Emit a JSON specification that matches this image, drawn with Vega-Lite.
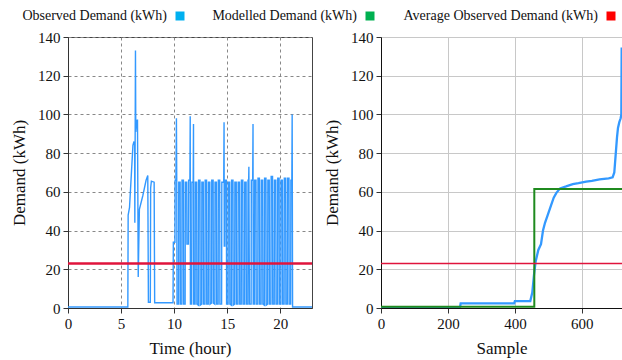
{
  "$schema": "https://vega.github.io/schema/vega-lite/v6.json",
  "background": "white",
  "padding": {"left": 10, "top": 9, "right": 0, "bottom": 2},
  "spacing": 9,
  "config": {
    "font": "Liberation Serif",
    "view": {"stroke": null},
    "axis": {
      "labelFont": "Liberation Serif", "titleFont": "Liberation Serif",
      "labelFontSize": 15, "titleFontSize": 17, "titleFontWeight": "normal",
      "labelColor": "#111", "titleColor": "#111",
      "domainColor": "#333", "tickColor": "#333", "tickSize": 5, "labelPadding": 3,
      "labelOverlap": false, "labelFlush": false, "titlePadding": 9
    },
    "legend": {
      "orient": "none", "legendY": -28, "direction": "horizontal", "title": null,
      "symbolType": "square", "symbolSize": 81, "symbolStrokeWidth": 0,
      "labelFont": "Liberation Serif", "labelFontSize": 14, "labelColor": "#111", "labelLimit": 0,
      "labelAlign": "right", "labelOffset": -20
    }
  },
  "datasets": {
    "left": [
      {"t": 0, "v": 0.5}, {"t": 5.64, "v": 0.5}, {"t": 5.67, "v": 48}, {"t": 5.8, "v": 52}, {"t": 6.12, "v": 84},
      {"t": 6.22, "v": 86}, {"t": 6.28, "v": 84}, {"t": 6.3, "v": 44}, {"t": 6.36, "v": 133}, {"t": 6.39, "v": 91},
      {"t": 6.45, "v": 95}, {"t": 6.52, "v": 97}, {"t": 6.55, "v": 97}, {"t": 6.62, "v": 16}, {"t": 6.73, "v": 51},
      {"t": 7.05, "v": 58}, {"t": 7.36, "v": 66}, {"t": 7.52, "v": 68.5}, {"t": 7.58, "v": 3}, {"t": 7.76, "v": 3},
      {"t": 7.79, "v": 62}, {"t": 7.86, "v": 65.5}, {"t": 8.12, "v": 65}, {"t": 8.17, "v": 2.7}, {"t": 9.9, "v": 2.7},
      {"t": 9.93, "v": 34}, {"t": 10.08, "v": 34}, {"t": 10.1, "v": 66}, {"t": 10.17, "v": 66}, {"t": 10.22, "v": 98},
      {"t": 10.25, "v": 66}, {"t": 10.28, "v": 2},
      {"t": 10.42, "v": 2}, {"t": 10.44, "v": 65}, {"t": 10.57, "v": 65}, {"t": 10.59, "v": 2},
      {"t": 10.73, "v": 2}, {"t": 10.75, "v": 66}, {"t": 10.88, "v": 66}, {"t": 10.9, "v": 2},
      {"t": 11.04, "v": 2}, {"t": 11.06, "v": 65}, {"t": 11.19, "v": 65}, {"t": 11.21, "v": 33},
      {"t": 11.35, "v": 33}, {"t": 11.37, "v": 66}, {"t": 11.49, "v": 66}, {"t": 11.52, "v": 99}, {"t": 11.54, "v": 2},
      {"t": 11.66, "v": 2}, {"t": 11.68, "v": 65}, {"t": 11.8, "v": 65}, {"t": 11.83, "v": 95}, {"t": 11.85, "v": 2},
      {"t": 11.98, "v": 2}, {"t": 12.0, "v": 65}, {"t": 12.13, "v": 65}, {"t": 12.15, "v": 2},
      {"t": 12.29, "v": 1.5}, {"t": 12.31, "v": 66}, {"t": 12.44, "v": 66}, {"t": 12.46, "v": 1.5},
      {"t": 12.6, "v": 2}, {"t": 12.62, "v": 65}, {"t": 12.75, "v": 65}, {"t": 12.77, "v": 2},
      {"t": 12.91, "v": 2}, {"t": 12.93, "v": 66}, {"t": 13.06, "v": 66}, {"t": 13.08, "v": 2},
      {"t": 13.22, "v": 2}, {"t": 13.24, "v": 65}, {"t": 13.37, "v": 65}, {"t": 13.39, "v": 2},
      {"t": 13.53, "v": 2.5}, {"t": 13.55, "v": 66}, {"t": 13.68, "v": 66}, {"t": 13.7, "v": 2.5},
      {"t": 13.84, "v": 2}, {"t": 13.86, "v": 65}, {"t": 13.99, "v": 65}, {"t": 14.01, "v": 2},
      {"t": 14.15, "v": 2}, {"t": 14.17, "v": 66}, {"t": 14.3, "v": 66}, {"t": 14.32, "v": 2},
      {"t": 14.48, "v": 2}, {"t": 14.5, "v": 65}, {"t": 14.68, "v": 65}, {"t": 14.71, "v": 96}, {"t": 14.73, "v": 32},
      {"t": 14.78, "v": 32}, {"t": 14.8, "v": 66}, {"t": 14.93, "v": 66}, {"t": 14.95, "v": 2},
      {"t": 15.09, "v": 2}, {"t": 15.11, "v": 65}, {"t": 15.24, "v": 65}, {"t": 15.26, "v": 2},
      {"t": 15.4, "v": 1.5}, {"t": 15.42, "v": 66}, {"t": 15.55, "v": 66}, {"t": 15.57, "v": 1.5},
      {"t": 15.71, "v": 2}, {"t": 15.73, "v": 65}, {"t": 15.86, "v": 65}, {"t": 15.88, "v": 2},
      {"t": 16.02, "v": 2}, {"t": 16.04, "v": 65}, {"t": 16.17, "v": 65}, {"t": 16.19, "v": 2},
      {"t": 16.33, "v": 2}, {"t": 16.35, "v": 66}, {"t": 16.48, "v": 66}, {"t": 16.5, "v": 2},
      {"t": 16.64, "v": 2}, {"t": 16.66, "v": 65}, {"t": 16.79, "v": 65}, {"t": 16.81, "v": 2},
      {"t": 16.95, "v": 2}, {"t": 16.97, "v": 66}, {"t": 17.03, "v": 66}, {"t": 17.05, "v": 73}, {"t": 17.1, "v": 2},
      {"t": 17.26, "v": 2}, {"t": 17.28, "v": 66}, {"t": 17.41, "v": 66}, {"t": 17.44, "v": 95}, {"t": 17.46, "v": 2},
      {"t": 17.57, "v": 2}, {"t": 17.59, "v": 66}, {"t": 17.72, "v": 66}, {"t": 17.74, "v": 2},
      {"t": 17.89, "v": 2}, {"t": 17.91, "v": 67}, {"t": 18.04, "v": 67}, {"t": 18.06, "v": 2},
      {"t": 18.2, "v": 2}, {"t": 18.22, "v": 66}, {"t": 18.35, "v": 66}, {"t": 18.37, "v": 2},
      {"t": 18.51, "v": 1.5}, {"t": 18.53, "v": 67}, {"t": 18.66, "v": 67}, {"t": 18.68, "v": 1.5},
      {"t": 18.82, "v": 2}, {"t": 18.84, "v": 66}, {"t": 18.97, "v": 66}, {"t": 18.99, "v": 2},
      {"t": 19.13, "v": 2}, {"t": 19.15, "v": 68}, {"t": 19.28, "v": 68}, {"t": 19.3, "v": 2},
      {"t": 19.44, "v": 2}, {"t": 19.46, "v": 66}, {"t": 19.59, "v": 66}, {"t": 19.61, "v": 2},
      {"t": 19.75, "v": 2}, {"t": 19.77, "v": 67}, {"t": 19.9, "v": 67}, {"t": 19.92, "v": 2},
      {"t": 20.06, "v": 2}, {"t": 20.08, "v": 66}, {"t": 20.21, "v": 66}, {"t": 20.23, "v": 2},
      {"t": 20.37, "v": 2}, {"t": 20.39, "v": 67}, {"t": 20.52, "v": 67}, {"t": 20.54, "v": 2},
      {"t": 20.68, "v": 2}, {"t": 20.7, "v": 67}, {"t": 20.83, "v": 67}, {"t": 20.85, "v": 2},
      {"t": 20.99, "v": 2}, {"t": 21.01, "v": 66}, {"t": 21.1, "v": 66}, {"t": 21.13, "v": 100}, {"t": 21.17, "v": 0.5},
      {"t": 23, "v": 0.5}
    ],
    "sorted": [
      {"s": 0, "v": 0.3}, {"s": 236, "v": 0.3}, {"s": 238, "v": 2.4}, {"s": 398, "v": 2.4}, {"s": 400, "v": 3.6},
      {"s": 446, "v": 3.6}, {"s": 452, "v": 8}, {"s": 457, "v": 17}, {"s": 462, "v": 24}, {"s": 470, "v": 30},
      {"s": 478, "v": 33}, {"s": 484, "v": 40}, {"s": 490, "v": 44}, {"s": 498, "v": 48}, {"s": 508, "v": 53},
      {"s": 516, "v": 57}, {"s": 524, "v": 59.5}, {"s": 535, "v": 61.8}, {"s": 553, "v": 62.8}, {"s": 573, "v": 64},
      {"s": 590, "v": 64.5}, {"s": 613, "v": 65.3}, {"s": 630, "v": 65.7}, {"s": 653, "v": 66.5}, {"s": 680, "v": 67},
      {"s": 692, "v": 67.5}, {"s": 697, "v": 70}, {"s": 701, "v": 79}, {"s": 705, "v": 88}, {"s": 708, "v": 93},
      {"s": 712, "v": 96}, {"s": 716, "v": 98}, {"s": 718, "v": 100}, {"s": 719, "v": 134}, {"s": 720, "v": 134}
    ],
    "modelled": [{"s": 0, "v": 0.6}, {"s": 458, "v": 61.5}, {"s": 720, "v": 61.5}],
    "avg": [{"v": 23}]
  },
  "hconcat": [
    {
      "width": 244, "height": 271,
      "view": {"stroke": "#444"},
      "encoding": {
        "y": {"field": "v", "type": "quantitative", "scale": {"domain": [0, 140], "nice": false},
              "axis": {"values": [0, 20, 40, 60, 80, 100, 120, 140], "title": "Demand (kWh)", "gridDash": [3, 3], "gridColor": "#888", "gridWidth": 1}}
      },
      "layer": [
        {
          "data": {"name": "left"},
          "mark": {"type": "line", "strokeWidth": 1.4, "clip": true},
          "encoding": {
            "x": {"field": "t", "type": "quantitative", "scale": {"domain": [0, 23], "nice": false},
                  "axis": {"values": [0, 5, 10, 15, 20], "title": "Time (hour)", "gridDash": [3, 3], "gridColor": "#888", "gridWidth": 1}},
            "color": {"datum": "Observed Demand (kWh)", "type": "nominal",
                      "scale": {"domain": ["Observed Demand (kWh)"], "range": ["#3399ff"]},
                      "legend": {"legendX": 105,
                        "encode": {"symbols": {"update": {"fill": {"value": "#00b0f0"}, "stroke": {"value": "transparent"}}}}}}
          }
        },
        {
          "data": {"name": "avg"},
          "mark": {"type": "rule", "strokeWidth": 2.5, "stroke": "#e0143c"},
          "encoding": {
            "fill": {"datum": "Average Observed Demand (kWh)", "type": "nominal",
                     "scale": {"domain": ["Average Observed Demand (kWh)"], "range": ["#ff0000"]},
                     "legend": {"legendX": 536,
                       "encode": {"symbols": {"update": {"fill": {"value": "#ff0000"}, "fillOpacity": {"value": 1}, "opacity": {"value": 1}, "stroke": {"value": "transparent"}}}}}}
          }
        }
      ]
    },
    {
      "width": 241, "height": 271,
      "encoding": {
        "y": {"field": "v", "type": "quantitative", "scale": {"domain": [0, 140], "nice": false},
              "axis": {"values": [0, 20, 40, 60, 80, 100, 120, 140], "title": "Demand (kWh)", "gridColor": "#c8c8c8", "gridWidth": 1, "domainColor": "#111"}}
      },
      "layer": [
        {
          "data": {"name": "sorted"},
          "mark": {"type": "line", "strokeWidth": 2.3, "clip": true},
          "encoding": {
            "x": {"field": "s", "type": "quantitative", "scale": {"domain": [0, 720], "nice": false},
                  "axis": {"values": [0, 200, 400, 600], "title": "Sample", "gridColor": "#c8c8c8", "gridWidth": 1, "domainColor": "#111"}},
            "color": {"datum": "Observed Demand (kWh)", "type": "nominal"}
          }
        },
        {
          "data": {"name": "modelled"},
          "mark": {"type": "line", "strokeWidth": 2, "interpolate": "step-after", "clip": true},
          "encoding": {
            "x": {"field": "s", "type": "quantitative"},
            "stroke": {"datum": "Modelled Demand (kWh)", "type": "nominal",
                       "scale": {"domain": ["Modelled Demand (kWh)"], "range": ["#1f8a1f"]},
                       "legend": {"legendX": 295,
                         "encode": {"symbols": {"update": {"fill": {"value": "#00b050"}, "stroke": {"value": "transparent"}}}}}}
          }
        },
        {
          "data": {"name": "avg"},
          "mark": {"type": "rule", "strokeWidth": 1.6, "stroke": "#e0143c"},
          "encoding": {
            "fill": {"datum": "Average Observed Demand (kWh)", "type": "nominal"}
          }
        }
      ]
    }
  ]
}
